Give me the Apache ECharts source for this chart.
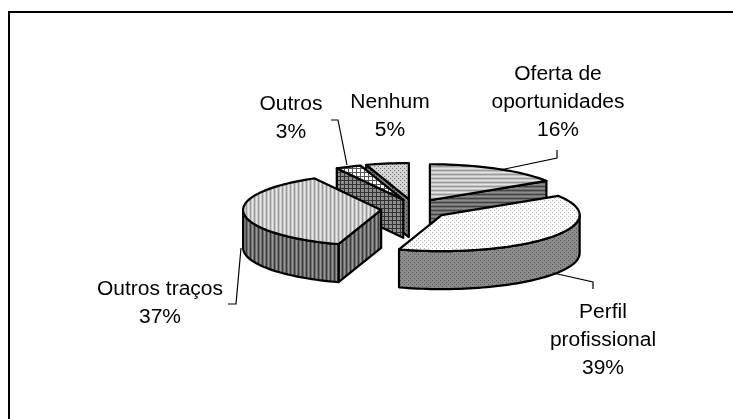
<!DOCTYPE html>
<html>
<head>
<meta charset="utf-8">
<style>
  html, body { margin: 0; padding: 0; background: #fff; }
  #chart { width: 733px; height: 419px; }
</style>
<script src="https://cdn.jsdelivr.net/npm/echarts@6/dist/echarts.min.js"></script>
</head>
<body>
<div id="chart"></div>
<script>
// clockwise from 12 o'clock
const categories = ['Oferta de\noportunidades', 'Perfil\nprofissional', 'Outros traços', 'Outros', 'Nenhum'];
const values = [16, 39, 37, 3, 5];

// layout of the fake 3d pie
const pieCx = 414, pieCy = 209;
const radiusX = 138, radiusY = 36, depth = 38;
const explodeX = [33, 35, 33, 27, 33], explodeY = 10;

// label centre and leader line per slice
const labelPos = [[558, 102.5], [603, 340], [160, 303], [291, 118.5], [390, 116]];
const leaders = [
  [[557, 150], [557, 158], [500, 170]],
  [[553, 273], [593, 282], [593, 289]],
  [[228, 304], [236, 304], [241, 248]],
  [[331, 120], [338, 120], [347, 165]],
  null
];

function stripes(dir, cols) {
  const c = document.createElement('canvas');
  c.width = dir == 'v' ? cols.length : 1;
  c.height = dir == 'v' ? 1 : cols.length;
  const g = c.getContext('2d');
  cols.forEach(function (col, i) {
    g.fillStyle = col;
    if (dir == 'v') g.fillRect(i, 0, 1, 1);
    else g.fillRect(0, i, 1, 1);
  });
  return { image: c, repeat: 'repeat' };
}
function dots(size, bg, fg) {
  const c = document.createElement('canvas');
  c.width = c.height = size;
  const g = c.getContext('2d');
  g.fillStyle = bg;
  g.fillRect(0, 0, size, size);
  g.fillStyle = fg;
  g.fillRect(0, 0, 1, 1);
  g.fillRect(size / 2, size / 2, 1, 1);
  return { image: c, repeat: 'repeat' };
}
function grid(size, bg, fg) {
  const c = document.createElement('canvas');
  c.width = c.height = size;
  const g = c.getContext('2d');
  g.fillStyle = bg;
  g.fillRect(0, 0, size, size);
  g.fillStyle = fg;
  g.fillRect(0, 0, size, 1);
  g.fillRect(0, 0, 1, size);
  return { image: c, repeat: 'repeat' };
}

const topFill = [
  stripes('h', ['#e4e4e4', '#c4c4c4', '#9a9a9a', '#c4c4c4']),
  dots(4, '#ffffff', '#b4b4b4'),
  stripes('v', ['#e8e8e8', '#c8c8c8', '#9c9c9c', '#c8c8c8']),
  grid(4, '#ffffff', '#555555'),
  dots(4, '#d4d4d4', '#707070')
];
const sideFill = [
  stripes('h', ['#8c8c8c', '#707070', '#444444', '#707070']),
  dots(4, '#8c8c8c', '#555555'),
  stripes('v', ['#999999', '#6e6e6e', '#3c3c3c', '#6e6e6e']),
  grid(4, '#8e8e8e', '#333333'),
  dots(4, '#808080', '#333333')
];

// start and end angle of each slice, in degrees
const total = values.reduce(function (a, b) { return a + b; }, 0);
const slices = [];
let acc = 0;
values.forEach(function (v) {
  slices.push({ start: acc / total * 360, end: (acc + v) / total * 360 });
  acc += v;
});

function centerOf(i) {
  const mid = (slices[i].start + slices[i].end) / 2 * Math.PI / 180;
  return [pieCx + explodeX[i] * Math.sin(mid), pieCy - explodeY * Math.cos(mid)];
}
function rimPoint(c, deg, drop) {
  const a = deg * Math.PI / 180;
  return [c[0] + radiusX * Math.sin(a), c[1] - radiusY * Math.cos(a) + drop];
}
function rim(c, from, to, drop) {
  const pts = [];
  const n = Math.max(2, Math.ceil((to - from) / 2));
  for (let k = 0; k <= n; k++) pts.push(rimPoint(c, from + (to - from) * k / n, drop));
  return pts;
}
function face(points, fill) {
  return {
    type: 'polygon',
    shape: { points: points },
    style: { fill: fill, stroke: '#000', lineWidth: 2.2, lineJoin: 'round' }
  };
}

function renderSlice(params, api) {
  const i = api.value(0);
  const s = slices[i];
  const c = centerOf(i);
  const side = sideFill[i];
  const kids = [];

  // straight cut walls, only the ones turned towards the viewer
  if (Math.sin(s.start * Math.PI / 180) < 0) {
    const p = rimPoint(c, s.start, 0);
    kids.push(face([c, p, [p[0], p[1] + depth], [c[0], c[1] + depth]], side));
  }
  if (Math.sin(s.end * Math.PI / 180) > 0) {
    const p = rimPoint(c, s.end, 0);
    kids.push(face([c, p, [p[0], p[1] + depth], [c[0], c[1] + depth]], side));
  }
  // outer wall, front half of the ellipse only
  const from = Math.max(s.start, 90), to = Math.min(s.end, 270);
  if (to > from) {
    kids.push(face(rim(c, from, to, 0).concat(rim(c, from, to, depth).reverse()), side));
  }
  kids.push(face([c].concat(rim(c, s.start, s.end, 0)), topFill[i]));
  return { type: 'group', children: kids };
}

function renderLabel(params, api) {
  const i = api.value(0);
  const kids = [{
    type: 'text',
    x: labelPos[i][0],
    y: labelPos[i][1],
    scaleX: 1.05,
    style: {
      text: categories[i] + '\n' + values[i] + '%',
      font: '20px "Liberation Sans", Arial, sans-serif',
      lineHeight: 28,
      fill: '#000',
      textAlign: 'center',
      textVerticalAlign: 'middle'
    }
  }];
  if (leaders[i]) {
    kids.push({
      type: 'polyline',
      shape: { points: leaders[i] },
      style: { fill: null, stroke: '#000', lineWidth: 1.2 }
    });
  }
  return { type: 'group', children: kids };
}

// paint back to front
const drawOrder = values.map(function (v, i) { return i; }).sort(function (a, b) {
  return centerOf(a)[1] - centerOf(b)[1];
});

const myChart = echarts.init(document.getElementById('chart'), null, { renderer: 'canvas' });
myChart.setOption({
  animation: false,
  backgroundColor: '#fff',
  graphic: [{
    type: 'polyline',
    shape: { points: [[9, 419], [9, 12], [733, 12]] },
    style: { fill: null, stroke: '#000', lineWidth: 2 }
  }],
  series: [
    {
      type: 'custom',
      coordinateSystem: 'none',
      silent: true,
      renderItem: renderSlice,
      data: drawOrder.map(function (i) { return [i]; })
    },
    {
      type: 'custom',
      coordinateSystem: 'none',
      silent: true,
      renderItem: renderLabel,
      data: values.map(function (v, i) { return [i]; })
    }
  ]
});
</script>
</body>
</html>
